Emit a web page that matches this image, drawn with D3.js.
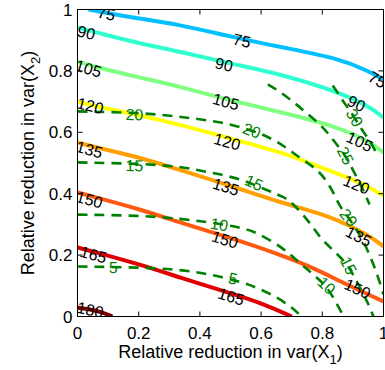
<!DOCTYPE html>
<html>
<head>
<meta charset="utf-8">
<script src="https://cdn.jsdelivr.net/npm/d3@7"></script>
<style>
  body { margin: 0; background: #fff; }
  svg { display: block; font-family: "Liberation Sans", Arial, sans-serif; }
</style>
</head>
<body>
<div id="chart"></div>
<script>
// tick values
const xTicks = [0, 0.2, 0.4, 0.6, 0.8, 1];
const yTicks = [0, 0.2, 0.4, 0.6, 0.8, 1];

// solid contours, points [x, y]
const solidLevels = [75, 90, 105, 120, 135, 150, 165, 180];
const line75 = [[0.036, 1.0], [0.173, 0.974], [0.335, 0.951], [0.498, 0.912], [0.671, 0.876], [0.857, 0.840], [0.954, 0.798], [1.0, 0.772]];
const line90 = [[0, 0.941], [0.075, 0.922], [0.205, 0.889], [0.335, 0.863], [0.498, 0.824], [0.671, 0.788], [0.857, 0.730], [0.954, 0.684], [1.0, 0.648]];
const line105 = [[0, 0.831], [0.075, 0.808], [0.205, 0.778], [0.335, 0.749], [0.498, 0.704], [0.671, 0.664], [0.857, 0.616], [0.954, 0.570], [1.0, 0.534]];
const line120 = [[0, 0.700], [0.075, 0.681], [0.205, 0.655], [0.335, 0.625], [0.498, 0.580], [0.671, 0.534], [0.769, 0.495], [0.857, 0.463], [0.938, 0.430], [1.0, 0.394]];
const line135 = [[0, 0.567], [0.075, 0.547], [0.205, 0.518], [0.329, 0.479], [0.498, 0.427], [0.671, 0.368], [0.824, 0.329], [0.954, 0.264], [1.0, 0.228]];
const line150 = [[0, 0.404], [0.075, 0.384], [0.205, 0.349], [0.335, 0.306], [0.498, 0.257], [0.661, 0.202], [0.769, 0.160], [0.879, 0.104], [1.0, 0.049]];
const line165 = [[0, 0.225], [0.075, 0.205], [0.205, 0.169], [0.335, 0.127], [0.492, 0.078], [0.596, 0.046], [0.700, 0.0]];
const line180 = [[0, 0.029], [0.042, 0.023], [0.075, 0.016], [0.114, 0.0]];

// dashed contours
const dashedLevels = [5, 10, 15, 20, 25, 30];
const dash5 = [[0, 0.163], [0.205, 0.160], [0.335, 0.153], [0.436, 0.137], [0.531, 0.114], [0.596, 0.091], [0.678, 0.049], [0.733, 0.0]];
const dash10 = [[0, 0.332], [0.205, 0.329], [0.335, 0.319], [0.459, 0.303], [0.531, 0.290], [0.580, 0.277], [0.671, 0.225], [0.720, 0.179], [0.752, 0.153], [0.782, 0.127], [0.814, 0.098], [0.840, 0.055], [0.863, 0.013], [0.870, 0.0]];
const dash15 = [[0, 0.502], [0.205, 0.498], [0.335, 0.489], [0.433, 0.469], [0.531, 0.450], [0.622, 0.410], [0.678, 0.388], [0.700, 0.371], [0.743, 0.326], [0.775, 0.283], [0.798, 0.251], [0.840, 0.212], [0.886, 0.166], [0.912, 0.114], [0.935, 0.072], [0.954, 0.033], [0.967, 0.0]];
const dash20 = [[0, 0.668], [0.205, 0.664], [0.335, 0.651], [0.482, 0.632], [0.570, 0.606], [0.622, 0.586], [0.678, 0.554], [0.720, 0.521], [0.785, 0.479], [0.818, 0.436], [0.840, 0.397], [0.857, 0.358], [0.886, 0.322], [0.912, 0.283], [0.932, 0.251], [0.954, 0.202], [0.974, 0.153], [0.990, 0.104], [1.0, 0.072]];
const dash25 = [[0.622, 0.756], [0.661, 0.733], [0.704, 0.700], [0.743, 0.668], [0.801, 0.619], [0.834, 0.577], [0.876, 0.524], [0.899, 0.479], [0.922, 0.436], [0.941, 0.397], [0.954, 0.365]];
const dash30 = [[0.834, 0.752], [0.850, 0.730], [0.866, 0.704], [0.906, 0.648], [0.928, 0.609], [0.958, 0.570], [0.974, 0.537]];

// contour labels [level, x, y]
const solidLabels = [
  [75, 0.094, 0.987], [75, 0.537, 0.899], [75, 0.980, 0.772],
  [90, 0.029, 0.925], [90, 0.479, 0.821], [90, 0.912, 0.694],
  [105, 0.036, 0.808], [105, 0.485, 0.700], [105, 0.922, 0.570],
  [120, 0.042, 0.687], [120, 0.489, 0.570], [120, 0.912, 0.430],
  [135, 0.039, 0.544], [135, 0.485, 0.423], [135, 0.919, 0.261],
  [150, 0.039, 0.381], [150, 0.482, 0.251], [150, 0.915, 0.091],
  [165, 0.052, 0.202], [165, 0.502, 0.065],
  [180, 0.042, 0.022]
];
const dashedLabels = [
  [20, 0.186, 0.658], [20, 0.570, 0.606], [20, 0.886, 0.322],
  [15, 0.186, 0.492], [15, 0.577, 0.436], [15, 0.886, 0.166],
  [10, 0.463, 0.300], [10, 0.814, 0.101],
  [5, 0.117, 0.160], [5, 0.508, 0.124],
  [25, 0.876, 0.524],
  [30, 0.906, 0.648]
];

const solidLines = new Map([[75, line75], [90, line90], [105, line105], [120, line120], [135, line135], [150, line150], [165, line165], [180, line180]]);
const dashedLines = new Map([[5, dash5], [10, dash10], [15, dash15], [20, dash20], [25, dash25], [30, dash30]]);

const width = 385, height = 370;
const margin = { top: 9.5, right: 1.5, bottom: 53.5, left: 77.5 };

const x = d3.scaleLinear().domain([0, 1]).range([margin.left, width - margin.right]);
const y = d3.scaleLinear().domain([0, 1]).range([height - margin.bottom, margin.top]);

const color = d3.scaleOrdinal()
  .domain(solidLevels)
  .range(['#00bfff', '#30ffcf', '#80ff80', '#ffff00', '#ffa000', '#ff5a10', '#e00000', '#800000']);

const svg = d3.select('#chart').append('svg')
  .attr('width', width)
  .attr('height', height);

svg.append('defs').append('clipPath').attr('id', 'plot')
  .append('rect')
  .attr('x', x(0)).attr('y', y(1))
  .attr('width', x(1) - x(0)).attr('height', y(0) - y(1));

const line = d3.line()
  .x(d => x(d[0]))
  .y(d => y(d[1]))
  .curve(d3.curveBasis);

const plot = svg.append('g').attr('clip-path', 'url(#plot)');

// solid lines
plot.append('g')
  .selectAll('path')
  .data(solidLevels)
  .join('path')
  .attr('d', k => line(solidLines.get(k)))
  .attr('fill', 'none')
  .attr('stroke', k => color(k))
  .attr('stroke-width', 4)
  .attr('stroke-linejoin', 'round');

// dashed lines
plot.append('g')
  .selectAll('path')
  .data(dashedLevels)
  .join('path')
  .attr('d', k => line(dashedLines.get(k)))
  .attr('fill', 'none')
  .attr('stroke', '#008000')
  .attr('stroke-width', 2.6)
  .attr('stroke-dasharray', '10,7');

// angle of the contour near a label, in screen space
function angleAt(pts, lx, ly) {
  let best = 0, bestD = Infinity;
  for (let i = 0; i < pts.length - 1; i++) {
    const mx = (x(pts[i][0]) + x(pts[i + 1][0])) / 2;
    const my = (y(pts[i][1]) + y(pts[i + 1][1])) / 2;
    const dd = (mx - x(lx)) ** 2 + (my - y(ly)) ** 2;
    if (dd < bestD) { bestD = dd; best = i; }
  }
  const dx = x(pts[best + 1][0]) - x(pts[best][0]);
  const dy = y(pts[best + 1][1]) - y(pts[best][1]);
  return Math.atan2(dy, dx) * 180 / Math.PI;
}

function drawLabels(rows, lines, fill) {
  plot.append('g')
    .selectAll('text')
    .data(rows)
    .join('text')
    .attr('transform', d => `translate(${x(d[1])},${y(d[2])}) rotate(${angleAt(lines.get(d[0]), d[1], d[2])})`)
    .attr('text-anchor', 'middle')
    .attr('dy', '0.36em')
    .attr('font-size', 16)
    .attr('fill', fill)
    .text(d => d[0]);
}
drawLabels(solidLabels, solidLines, '#000');
drawLabels(dashedLabels, dashedLines, '#008000');

// box and ticks
svg.append('rect')
  .attr('x', x(0)).attr('y', y(1))
  .attr('width', x(1) - x(0)).attr('height', y(0) - y(1))
  .attr('fill', 'none').attr('stroke', '#000').attr('stroke-width', 1);

const tickLen = 5;
const tk = svg.append('g').attr('stroke', '#000').attr('stroke-width', 1);
xTicks.forEach(t => {
  tk.append('line').attr('x1', x(t)).attr('x2', x(t)).attr('y1', y(0)).attr('y2', y(0) - tickLen);
  tk.append('line').attr('x1', x(t)).attr('x2', x(t)).attr('y1', y(1)).attr('y2', y(1) + tickLen);
});
yTicks.forEach(t => {
  tk.append('line').attr('y1', y(t)).attr('y2', y(t)).attr('x1', x(0)).attr('x2', x(0) + tickLen);
  tk.append('line').attr('y1', y(t)).attr('y2', y(t)).attr('x1', x(1)).attr('x2', x(1) - tickLen);
});

svg.append('g')
  .selectAll('text')
  .data(xTicks)
  .join('text')
  .attr('x', d => x(d))
  .attr('y', y(0) + 22)
  .attr('text-anchor', 'middle')
  .attr('font-size', 17)
  .text(d => d3.format('~g')(d));

svg.append('g')
  .selectAll('text')
  .data(yTicks)
  .join('text')
  .attr('x', x(0) - 5)
  .attr('y', d => y(d))
  .attr('dy', '0.36em')
  .attr('text-anchor', 'end')
  .attr('font-size', 17)
  .text(d => d3.format('~g')(d));

// axis titles
const xt = svg.append('text')
  .attr('x', (x(0) + x(1)) / 2)
  .attr('y', 358)
  .attr('text-anchor', 'middle')
  .attr('font-size', 18);
xt.append('tspan').text('Relative reduction in var(X');
xt.append('tspan').attr('dy', 6).attr('font-size', 13).text('1');
xt.append('tspan').attr('dy', -6).text(')');

const yt = svg.append('text')
  .attr('transform', `translate(34,${(y(0) + y(1)) / 2}) rotate(-90)`)
  .attr('text-anchor', 'middle')
  .attr('font-size', 18);
yt.append('tspan').text('Relative reduction in var(X');
yt.append('tspan').attr('dy', 6).attr('font-size', 13).text('2');
yt.append('tspan').attr('dy', -6).text(')');
</script>
</body>
</html>
